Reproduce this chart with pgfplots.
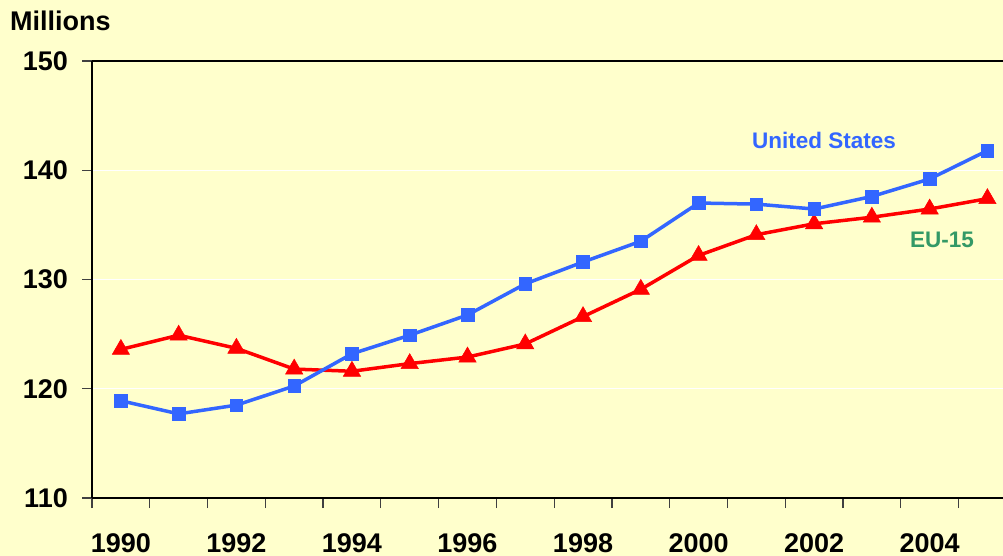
\documentclass[border=0pt]{standalone}
\usepackage{fontspec}
\setmainfont{Liberation Sans}
\usepackage{pgfplots}
\pgfplotsset{compat=1.18}
\definecolor{bg}{HTML}{FFFFCC}
\definecolor{usblue}{HTML}{3366FF}
\definecolor{eured}{HTML}{FF0000}
\definecolor{eugreen}{HTML}{339966}
\begin{document}
\begin{tikzpicture}
\useasboundingbox (0pt,0pt) rectangle (1003pt,556pt);
\fill[bg] (0pt,0pt) rectangle (1003pt,556pt);
\begin{axis}[
  at={(92pt,58pt)}, anchor=south west,
  scale only axis, width=911pt, height=437pt,
  xmin=1989.5, xmax=2005.27, ymin=110, ymax=150,
  axis x line*=bottom, axis y line*=left,
  axis line style={black, line width=1.5pt},
  xtick={1990,1992,...,2004},
  xticklabels={1990,1992,1994,1996,1998,2000,2002,2004},
  minor xtick={1989.5,1990.5,...,2004.5},
  ytick={110,120,...,150},
  yticklabels={110,120,130,140,150},
  minor ytick={110,120,...,150},
  major tick length=0pt, minor tick length=10pt,
  tick align=outside,
  tick style={black!75, line width=1.2pt},
  ymajorgrids, grid style={white, line width=1.2pt},
  ticklabel style={font=\fontsize{27}{32}\selectfont\bfseries, inner sep=0pt},
  xticklabel style={anchor=north, yshift=-35pt},
  yticklabel style={anchor=east, xshift=-24pt},
  clip=false,
]
\addplot[eured, line width=3.5pt, mark=triangle*,
  mark options={solid, line width=0.5pt, mark size=10pt}] coordinates {
  (1990,123.6) (1991,124.9) (1992,123.7) (1993,121.8) (1994,121.6)
  (1995,122.3) (1996,122.9) (1997,124.1) (1998,126.6) (1999,129.1)
  (2000,132.2) (2001,134.1) (2002,135.1) (2003,135.7) (2004,136.45)
  (2005,137.4)};
\addplot[usblue, line width=3.5pt, mark=square*,
  mark options={solid, line width=0.5pt, mark size=6.3pt}] coordinates {
  (1990,118.9) (1991,117.7) (1992,118.5) (1993,120.25) (1994,123.2)
  (1995,124.9) (1996,126.75) (1997,129.6) (1998,131.6) (1999,133.5)
  (2000,137.0) (2001,136.9) (2002,136.45) (2003,137.6) (2004,139.2)
  (2005,141.8)};
\draw[black, line width=1.5pt] (axis cs:1989.5,150) -- (axis cs:2005.27,150);
\end{axis}
\node[anchor=base west, inner sep=0pt, font=\fontsize{27}{32}\selectfont\bfseries] at (10pt,525pt) {Millions};
\node[usblue, inner sep=0pt, font=\fontsize{22.5}{27}\selectfont\bfseries] at (824pt,416pt) {United States};
\node[eugreen, inner sep=0pt, font=\fontsize{22.5}{27}\selectfont\bfseries] at (942pt,316pt) {EU-15};
\end{tikzpicture}
\end{document}
